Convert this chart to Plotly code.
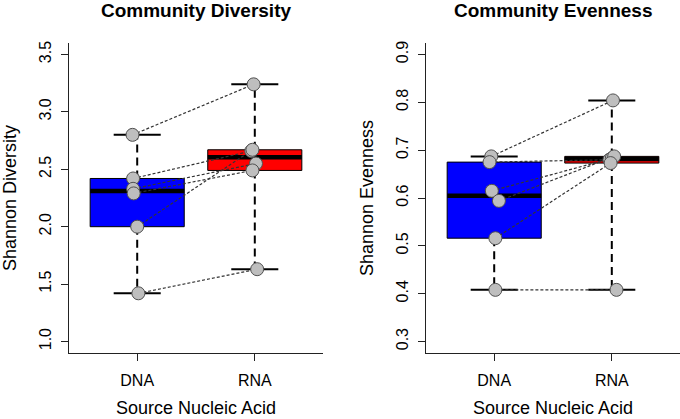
import numpy as np
import plotly.graph_objects as go

# ---------------- data (paired samples, DNA vs RNA) ----------------
categories = ["DNA", "RNA"]

div_dna = [2.80, 2.42, 2.33, 2.29, 2.00, 1.42]
div_rna = [3.24, 2.66, 2.55, 2.49, 2.67, 1.63]
even_dna = [0.687, 0.675, 0.615, 0.594, 0.516, 0.408]
even_rna = [0.804, 0.680, 0.683, 0.687, 0.673, 0.408]

# horizontal jitter of the plotted points (category units)
div_dna_jit = [-0.04, -0.035, -0.035, -0.03, 0.0, 0.01]
div_rna_jit = [-0.01, -0.03, 0.01, -0.02, -0.02, 0.02]
even_dna_jit = [-0.025, -0.04, -0.02, 0.04, 0.01, 0.01]
even_rna_jit = [0.01, -0.02, 0.0, 0.02, -0.01, 0.04]

div_ticks = [1.0, 1.5, 2.0, 2.5, 3.0, 3.5]
even_ticks = [0.3, 0.4, 0.5, 0.6, 0.7, 0.8, 0.9]

panel_titles = ["Community Diversity", "Community Evenness"]
y_titles = ["Shannon Diversity", "Shannon Evenness"]
x_title = "Source Nucleic Acid"
box_colors = ["#0000FF", "#FF0000"]

FONT = "Liberation Sans, Arial, Helvetica, sans-serif"
W, H = 680, 419


def fivenum(v):
    x = np.sort(np.asarray(v, dtype=float))
    n = len(x)
    n4 = np.floor((n + 3) / 2) / 2
    d = np.array([1, n4, (n + 1) / 2, n + 1 - n4, n]) - 1
    return 0.5 * (x[np.floor(d).astype(int)] + x[np.ceil(d).astype(int)])


fig = go.Figure()
shapes = []

panels = [
    ("x", "y", [div_dna, div_rna], [div_dna_jit, div_rna_jit]),
    ("x2", "y2", [even_dna, even_rna], [even_dna_jit, even_rna_jit]),
]

for xr, yr, groups, jits in panels:
    # boxes (whiskers to extremes)
    for i, vals in enumerate(groups):
        c = i + 1
        mn, q1, med, q3, mx = fivenum(vals)
        hw = 0.4
        sw = 0.2
        shapes.append(dict(type="rect", xref=xr, yref=yr, x0=c - hw, x1=c + hw, y0=q1, y1=q3,
                           fillcolor=box_colors[i], line=dict(color="black", width=1), layer="below"))
        shapes.append(dict(type="line", xref=xr, yref=yr, x0=c - hw, x1=c + hw, y0=med, y1=med,
                           line=dict(color="black", width=4.5), layer="below"))
        for a, b in [(q3, mx), (q1, mn)]:
            shapes.append(dict(type="line", xref=xr, yref=yr, x0=c, x1=c, y0=a, y1=b,
                               line=dict(color="black", width=2, dash="8px,5px"), layer="below"))
            shapes.append(dict(type="line", xref=xr, yref=yr, x0=c - sw, x1=c + sw, y0=b, y1=b,
                               line=dict(color="black", width=2), layer="below"))
    # paired connecting lines
    a_vals, b_vals = groups
    a_j, b_j = jits
    for k in range(len(a_vals)):
        fig.add_trace(go.Scatter(
            x=[1 + a_j[k], 2 + b_j[k]], y=[a_vals[k], b_vals[k]], xaxis=xr, yaxis=yr,
            mode="lines", line=dict(color="#333333", width=1.2, dash="3px,2px"),
            showlegend=False, hoverinfo="skip"))
    # points
    for i, vals in enumerate(groups):
        fig.add_trace(go.Scatter(
            x=[i + 1 + j for j in jits[i]], y=vals, xaxis=xr, yaxis=yr, mode="markers",
            marker=dict(size=13, color="#BEBEBE", line=dict(color="#505050", width=1)),
            showlegend=False, name=categories[i]))

x_dom1 = [69 / W, 323 / W]
x_dom2 = [426 / W, 1.0]
y_dom = [1 - 353 / H, 1 - 43 / H]

axis_common = dict(showline=True, linecolor="#222222", linewidth=1, ticks="outside",
                   ticklen=7, tickcolor="#222222", tickwidth=1, showgrid=False, zeroline=False,
                   tickfont=dict(family=FONT, size=16, color="black"), automargin=False)

fig.update_layout(
    width=W, height=H, margin=dict(l=0, r=0, t=0, b=0),
    paper_bgcolor="white", plot_bgcolor="white", showlegend=False,
    xaxis=dict(domain=x_dom1, range=[0.42, 2.58], tickvals=[1, 2], ticktext=categories,
               anchor="y", ticklabelstandoff=6, **axis_common),
    yaxis=dict(domain=y_dom, range=[0.9, 3.6], tickvals=div_ticks,
               ticktext=[f"{t:.1f}" for t in div_ticks], tickangle=-90,
               anchor="x", ticklabelstandoff=4, **axis_common),
    xaxis2=dict(domain=x_dom2, range=[0.42, 2.58], tickvals=[1, 2], ticktext=categories,
                anchor="y2", ticklabelstandoff=6, **axis_common),
    yaxis2=dict(domain=y_dom, range=[0.276, 0.924], tickvals=even_ticks,
                ticktext=[f"{t:.1f}" for t in even_ticks], tickangle=-90,
                anchor="x2", ticklabelstandoff=4, **axis_common),
    shapes=shapes,
)

annos = []
for dom, t, yt, ylab_x in [(x_dom1, panel_titles[0], y_titles[0], 10), (x_dom2, panel_titles[1], y_titles[1], 367)]:
    cx = (dom[0] + dom[1]) / 2
    annos.append(dict(text="<b>" + t + "</b>", x=cx, y=1 - 10 / H, xref="paper", yref="paper",
                      xanchor="center", yanchor="middle", showarrow=False,
                      font=dict(family=FONT, size=19, color="black")))
    annos.append(dict(text=x_title, x=cx, y=1 - 408 / H, xref="paper", yref="paper",
                      xanchor="center", yanchor="middle", showarrow=False,
                      font=dict(family=FONT, size=18, color="black")))
    annos.append(dict(text=yt, x=ylab_x / W, y=(y_dom[0] + y_dom[1]) / 2, xref="paper", yref="paper",
                      xanchor="center", yanchor="middle", showarrow=False, textangle=-90,
                      font=dict(family=FONT, size=18, color="black")))
fig.update_layout(annotations=annos)

fig.write_html("out.html", config={"displayModeBar": False},
               post_script="document.body.style.margin='0';document.body.style.padding='0';"
                           "document.body.style.overflow='hidden';")
